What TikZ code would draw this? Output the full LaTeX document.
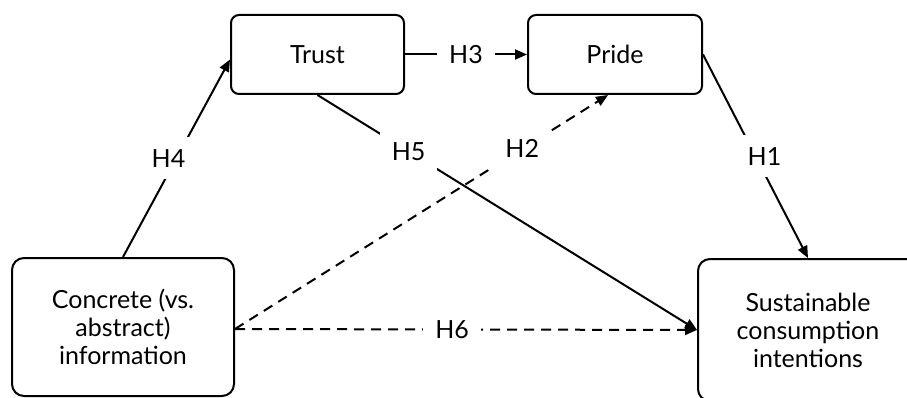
\documentclass[tikz,border=0pt]{standalone}
\usepackage{fontspec}
\setmainfont{Lato}
\usetikzlibrary{arrows.meta}

\begin{document}
\begin{tikzpicture}[x=1pt,y=1pt,font=\fontsize{25}{28}\selectfont,
  box/.style={draw,line width=2pt,rounded corners=8pt,align=center,inner sep=0pt},
  link/.style={line width=2pt,-{Triangle[length=12pt,width=10pt]}},
  hlab/.style={fill=white,inner sep=12pt}]
\useasboundingbox (0,0) rectangle (907,397);
\node[box,rounded corners=12pt,minimum width=222pt,minimum height=138pt] (concrete) at (123,70) {Concrete (vs.\\abstract)\\information};
\node[box,minimum width=173pt,minimum height=79pt] (trust) at (317.5,342.5) {Trust};
\node[box,minimum width=174pt,minimum height=79pt] (pride) at (615,342.5) {Pride};
\node[box,rounded corners=12pt,minimum width=220pt,minimum height=142pt] (intent) at (808,67) {Sustainable\\consumption\\intentions};
\draw[link] (concrete.north) -- node[hlab,xshift=-8pt] {H4} ([yshift=-5pt]trust.west);
\draw[link] (trust.east) -- node[hlab] {H3} (pride.west);
\draw[link] (pride.east) -- node[hlab,xshift=9pt] {H1} (intent.north);
\draw[link] (trust.south) -- node[hlab,pos=.24] {H5} (intent.west);
\draw[link,dash pattern=on 10pt off 7pt] ([yshift=-2pt]concrete.east) -- node[hlab,pos=.77] {H2} ([xshift=-7pt]pride.south);
\draw[link,dash pattern=on 10pt off 7pt] ([yshift=-2pt]concrete.east) -- node[hlab,pos=.47] {H6} (intent.west);
\end{tikzpicture}
\end{document}
